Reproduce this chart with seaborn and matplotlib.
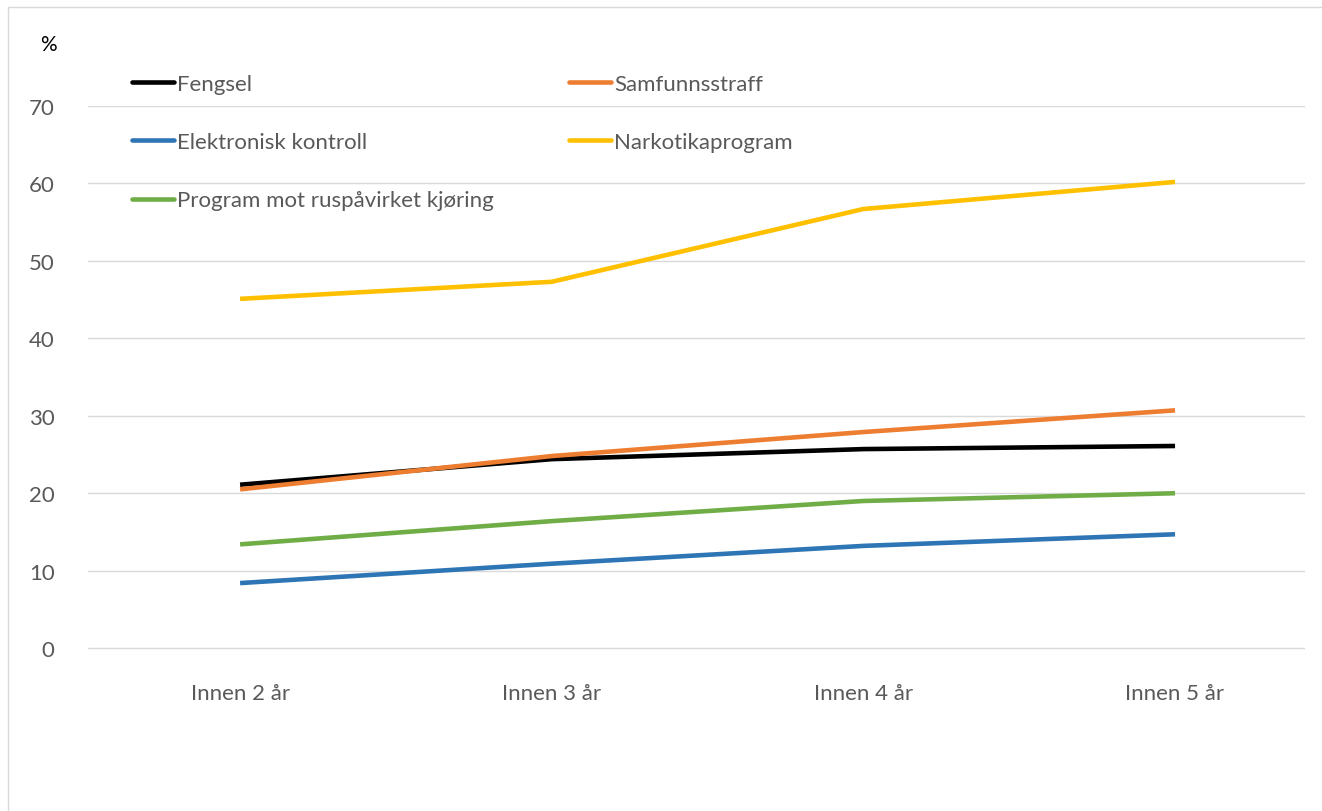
import pandas as pd
import matplotlib
matplotlib.use('Agg')
import matplotlib.pyplot as plt
import seaborn as sns
from matplotlib.patches import Rectangle

# Data
categories = ['Innen 2 år', 'Innen 3 år', 'Innen 4 år', 'Innen 5 år']
fengsel = [21.1, 24.4, 25.7, 26.1]
samfunnsstraff = [20.5, 24.8, 27.9, 30.7]
elektronisk = [8.4, 10.9, 13.2, 14.7]
narkotika = [45.1, 47.3, 56.7, 60.2]
ruspavirket = [13.4, 16.4, 19.0, 20.0]

series = {
    'Fengsel': fengsel,
    'Samfunnsstraff': samfunnsstraff,
    'Elektronisk kontroll': elektronisk,
    'Narkotikaprogram': narkotika,
    'Program mot ruspåvirket kjøring': ruspavirket,
}
colors = {
    'Fengsel': '#000000',
    'Samfunnsstraff': '#ED7D31',
    'Elektronisk kontroll': '#2E75B6',
    'Narkotikaprogram': '#FFC000',
    'Program mot ruspåvirket kjøring': '#70AD47',
}

rows = []
for name, vals in series.items():
    for i, v in enumerate(vals):
        rows.append({'serie': name, 'pos': i, 'verdi': v})
df = pd.DataFrame(rows)

sns.set_theme(style='white')
plt.rcParams['font.family'] = ['Lato', 'DejaVu Sans']

fig = plt.figure(figsize=(13.22, 8.12), dpi=100)
# y from -0.5 (bottom) to 70 (top)
ax = fig.add_axes([88 / 1322, 1 - 653 / 812, (1305 - 88) / 1322, (653 - 107) / 812])

sns.lineplot(data=df, x='pos', y='verdi', hue='serie', palette=colors,
             linewidth=3.3, ax=ax, legend=False, sort=False)
for ln in ax.lines:
    ln.set_solid_capstyle('butt')

ax.set_xlim(-0.488, 3.417)
ax.set_ylim(-0.5, 70)
ax.set_yticks(range(0, 71, 10))
ax.set_xticks(range(len(categories)))
ax.set_xticklabels(categories)
ax.yaxis.grid(True, color='#D9D9D9', linewidth=1)
ax.set_axisbelow(True)
for s in ['top', 'right', 'left', 'bottom']:
    ax.spines[s].set_visible(False)
ax.tick_params(axis='both', length=0, labelsize=16, colors='#595959')
ax.tick_params(axis='y', pad=24)
ax.tick_params(axis='x', pad=22)
ax.set_xlabel('')
ax.set_ylabel('')

fig.text(40 / 1322, 1 - 45 / 812, '%', fontsize=15, color='#000000', va='center')

# Legend in the upper area, two columns
order = ['Fengsel', 'Elektronisk kontroll', 'Program mot ruspåvirket kjøring',
         'Samfunnsstraff', 'Narkotikaprogram']
handles = [plt.Line2D([0], [0], color=colors[n], linewidth=3.3) for n in order]
fig.legend(handles, order, loc='upper left', bbox_to_anchor=(112 / 1322, 1 - 55 / 812),
           ncol=2, frameon=False, fontsize=16, handlelength=1.9, handletextpad=0.12,
           labelspacing=1.72, columnspacing=3.4, labelcolor='#595959')

# light outer frame
fig.patches.append(Rectangle((8 / 1322, -0.1), 1.2, 1 - 8 / 812 + 0.1,
                             transform=fig.transFigure, fill=False,
                             edgecolor='#D9D9D9', linewidth=1))

fig.savefig('out.png', dpi=100)
